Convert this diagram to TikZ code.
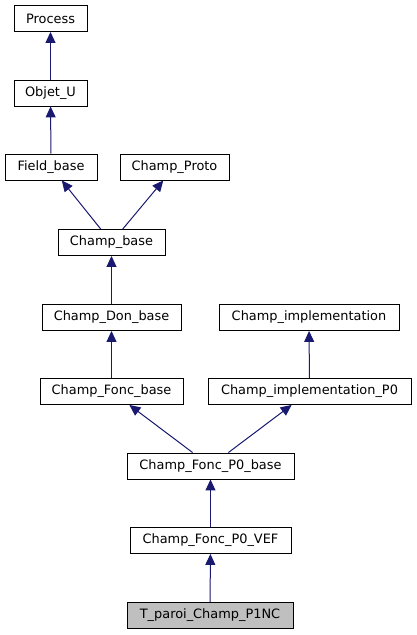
\documentclass[tikz,border=0pt]{standalone}
\usepackage{fontspec}
\setmainfont{DejaVu Sans}
\usetikzlibrary{arrows.meta}
\definecolor{edgeblue}{HTML}{191970}
\tikzset{
  box/.style={draw=black, line width=0.9pt, fill=white, minimum height=26pt, inner sep=0pt,
    font=\fontsize{12.9}{15}\selectfont},
  hilite/.style={box, fill=black!25},
  edge/.style={draw=edgeblue, line width=1pt, -{Triangle[length=11pt,width=10pt]}}
}
\begin{document}
\begin{tikzpicture}[x=1pt,y=-1pt]
\useasboundingbox (0,0) rectangle (416,635);
\node[box, minimum width=73pt] (proc) at (50.5,18.5) {Process};
\node[box, minimum width=73pt] (obj) at (50.5,93) {Objet\_U};
\node[box, minimum width=92pt] (fb) at (51,167) {Field\_base};
\node[box, minimum width=109pt] (cp) at (174.5,167) {Champ\_Proto};
\node[box, minimum width=107pt] (cb) at (111.5,242.5) {Champ\_base};
\node[box, minimum width=139pt] (cdb) at (111.5,317.5) {Champ\_Don\_base};
\node[box, minimum width=180pt] (ci) at (309,317.5) {Champ\_implementation};
\node[box, minimum width=143pt] (cfb) at (111.5,391.5) {Champ\_Fonc\_base};
\node[box, minimum width=203pt] (cip) at (309.5,391.5) {Champ\_implementation\_P0};
\node[box, minimum width=167pt] (cfpb) at (210.5,466) {Champ\_Fonc\_P0\_base};
\node[box, minimum width=161pt] (cfpv) at (210.5,540.5) {Champ\_Fonc\_P0\_VEF};
\node[hilite, minimum width=166pt] (tp) at (210,615.5) {T\_paroi\_Champ\_P1NC};
\draw[edge] (obj) -- (proc);
\draw[edge] (fb) -- (obj);
\draw[edge] (cb) -- (fb);
\draw[edge] (cb) -- (cp);
\draw[edge] (cdb) -- (cb);
\draw[edge] (cfb) -- (cdb);
\draw[edge] (cip) -- (ci);
\draw[edge] (cfpb) -- (cfb);
\draw[edge] (cfpb) -- (cip);
\draw[edge] (cfpv) -- (cfpb);
\draw[edge] (tp) -- (cfpv);
\end{tikzpicture}
\end{document}
